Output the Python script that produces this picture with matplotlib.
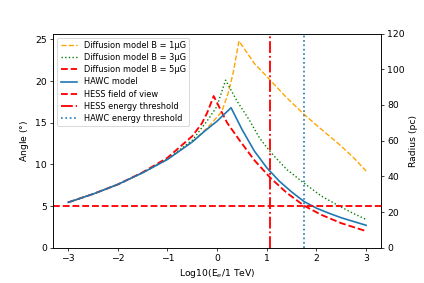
import numpy as np
import matplotlib
matplotlib.use("Agg")
import matplotlib.pyplot as plt

# ---------------------------
# DATA
# ---------------------------
# HAWC model
x_hawc = [-3.0, -2.5, -2.0, -1.5, -1.0, -0.5, -0.25, 0.0, 0.28,
          0.5, 0.75, 1.0, 1.25, 1.5, 1.75, 2.0, 2.25, 2.5, 2.75, 3.0]
y_hawc = [5.45, 6.45, 7.6, 9.0, 10.6, 12.7, 14.0, 15.2, 16.8,
          14.2, 11.6, 9.6, 8.0, 6.7, 5.55, 4.75, 4.15, 3.6, 3.15, 2.7]

# Diffusion model B = 1 uG
x_b1 = [-3.0, -2.5, -2.0, -1.5, -1.0, -0.5, -0.18, 0.09, 0.22, 0.32, 0.44,
        0.75, 1.07, 1.4, 1.75, 2.1, 2.46, 2.75, 3.0]
y_b1 = [5.45, 6.45, 7.6, 9.0, 10.6, 12.7, 14.5, 16.3, 18.5, 20.9, 24.8,
        22.1, 20.1, 18.0, 16.0, 14.2, 12.4, 10.8, 9.2]

# Diffusion model B = 3 uG
x_b3 = [-3.0, -2.5, -2.0, -1.5, -1.0, -0.5, -0.18, -0.01, 0.17,
        0.4, 0.65, 0.85, 1.07, 1.4, 1.75, 2.1, 2.46, 2.75, 3.0]
y_b3 = [5.45, 6.45, 7.6, 9.0, 10.65, 12.9, 15.4, 16.9, 20.1,
        17.6, 15.3, 13.2, 11.5, 9.4, 7.75, 6.2, 5.0, 4.1, 3.4]

# Diffusion model B = 5 uG
x_b5 = [-3.0, -2.5, -2.0, -1.5, -1.0, -0.5, -0.31, -0.2, -0.07,
        0.2, 0.45, 0.75, 1.07, 1.4, 1.75, 2.1, 2.5, 3.0]
y_b5 = [5.45, 6.45, 7.6, 9.05, 10.8, 13.4, 14.9, 16.2, 18.2,
        15.0, 12.9, 10.5, 8.4, 6.6, 5.05, 3.95, 2.95, 2.0]

hess_fov = 5.0          # degrees
hess_threshold = 1.07   # log10(E/TeV)
hawc_threshold = 1.75   # log10(E/TeV)

# ---------------------------
# PLOT
# ---------------------------
fig = plt.figure(figsize=(6.4, 283 / 66.25), dpi=66.25)
ax = fig.add_axes([0.1257, 0.1244, 0.8986 - 0.1257, 0.8816 - 0.1244])

ax.plot(x_b1, y_b1, '--', color='orange', lw=1.5, label='Diffusion model B = 1μG')
ax.plot(x_b3, y_b3, ':', color='green', lw=1.5, label='Diffusion model B = 3μG')
ax.plot(x_b5, y_b5, '--', color='red', lw=2, label='Diffusion model B = 5μG')
ax.plot(x_hawc, y_hawc, '-', color='tab:blue', lw=1.8, label='HAWC model')
ax.axhline(hess_fov, ls='--', color='red', lw=2, label='HESS field of view')
ax.axvline(hess_threshold, ls='-.', color='red', lw=2, label='HESS energy threshold')
ax.axvline(hawc_threshold, ls=':', color='tab:blue', lw=1.8, label='HAWC energy threshold')

ax.set_xlim(-3.3, 3.3)
ax.set_ylim(0, 25.7)
ax.set_yticks([0, 5, 10, 15, 20, 25])
ax.set_xlabel(r'Log10(E$_e$/1 TeV)')
ax.set_ylabel(r'Angle ($\degree$)')
ax.legend(loc='upper left', fontsize=9, labelspacing=0.38)

ax2 = ax.twinx()
ax2.set_ylim(0, 120)
ax2.set_yticks([0, 20, 40, 60, 80, 100, 120])
ax2.set_ylabel('Radius (pc)')

fig.savefig("out.png", dpi=66.25)
